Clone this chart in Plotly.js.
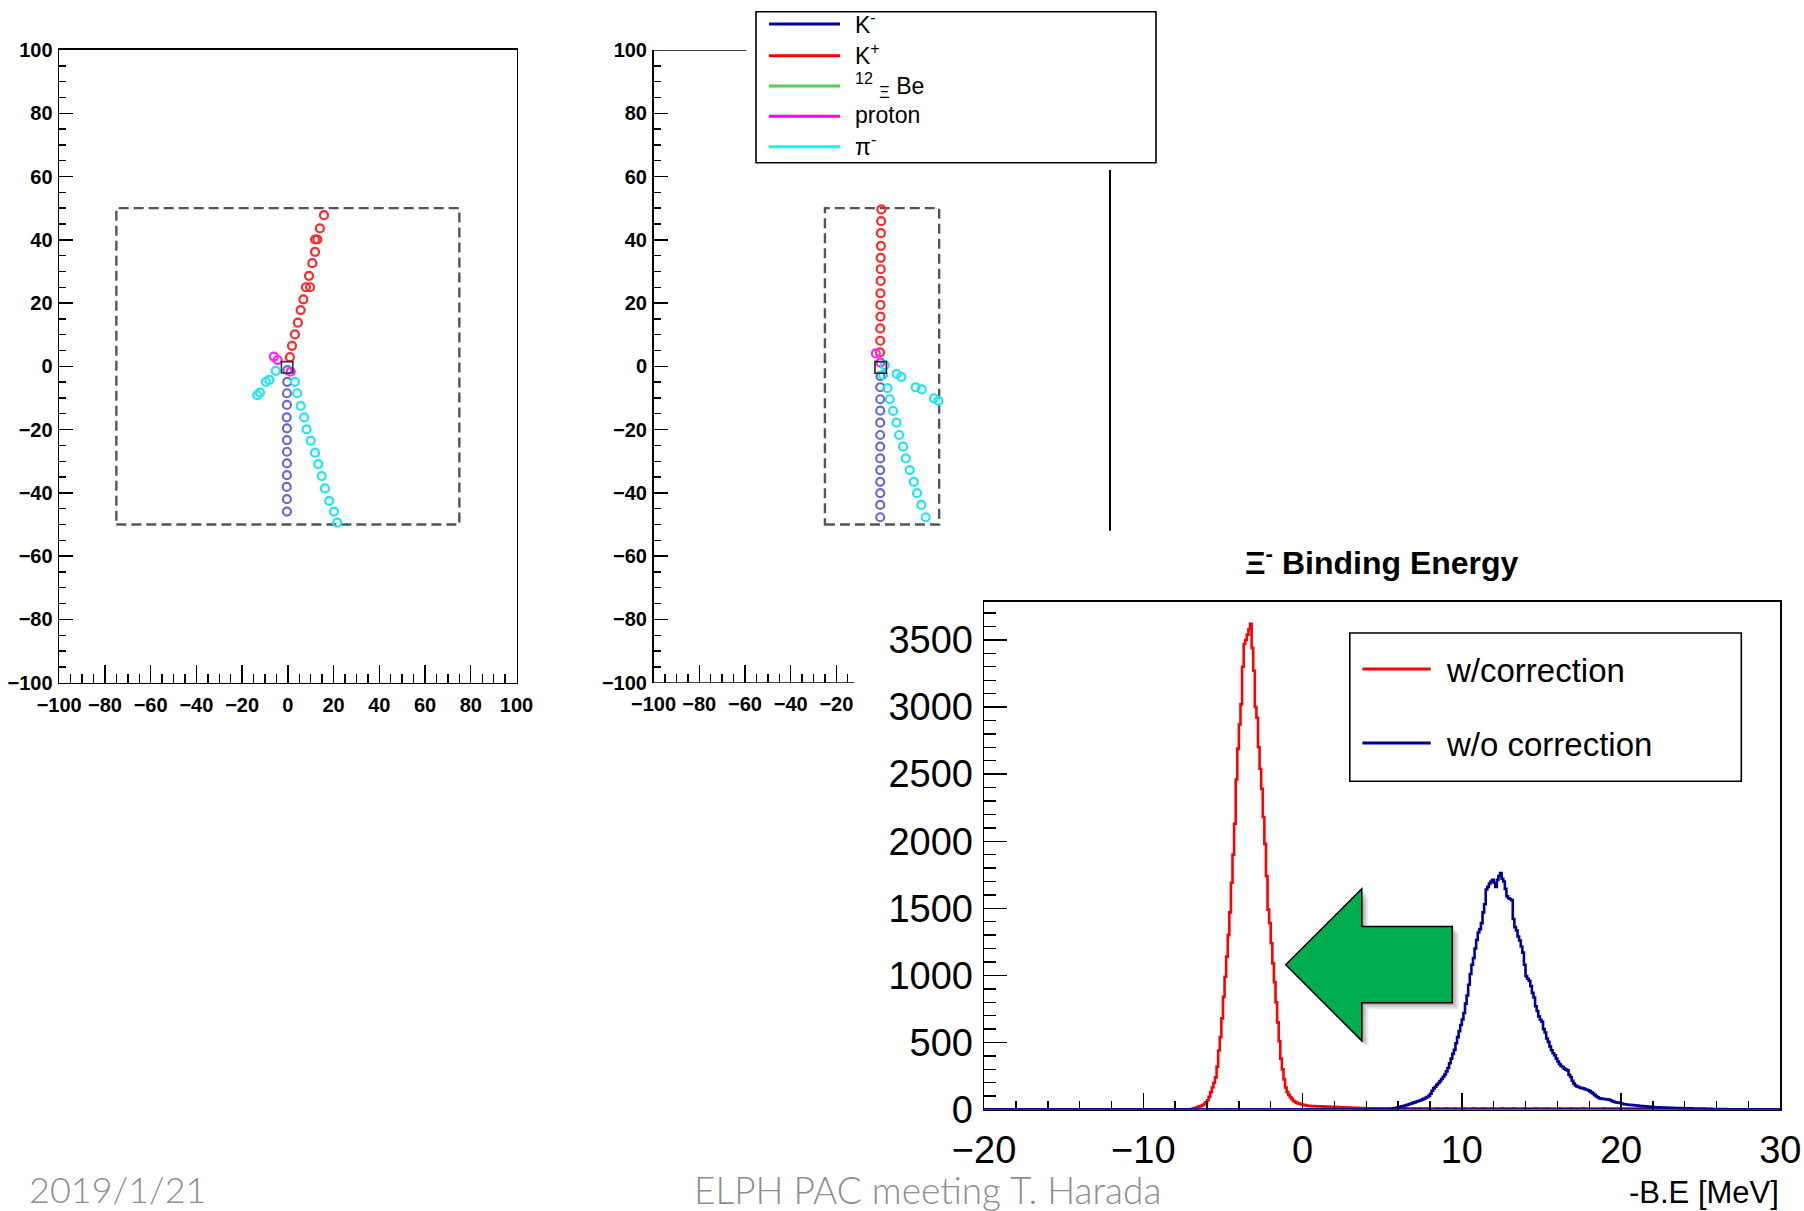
<!DOCTYPE html>
<html><head><meta charset="utf-8">
<script src="https://cdn.plot.ly/plotly-3.0.1.min.js"></script>
<style>html,body{margin:0;padding:0;background:#fff}#chart{width:1804px;height:1211px}</style>
</head><body><div id="chart"></div>
<script>
// ---------- Event display: left view (x-y) ----------
const leftKPlusX  = [15.8,14.0,11.9,12.9,11.9,10.7,9.25,7.9,9.7,6.8,5.6,4.4,3.1,1.8,0.9];
const leftKPlusY  = [47.8,43.6,40.1,40.1,36.2,32.6,28.6,25.0,25.0,21.2,17.8,13.8,10.1,6.5,2.9];
const leftProtonX = [-6.1,-4.5,1.25];
const leftProtonY = [3.1,2.0,-1.7];
const leftKMinusX = [-0.2,-0.3,-0.4,-0.4,-0.5,-0.4,-0.4,-0.4,-0.4,-0.4,-0.5,-0.4,-0.4];
const leftKMinusY = [-1.2,-4.9,-8.5,-12.2,-16.1,-19.6,-23.3,-27.0,-30.7,-34.4,-38.1,-42.0,-45.9];
const leftPiX = [-5.3,-8.1,-9.6,-12.2,-13.4,3.1,4.1,5.6,7.1,8.2,10.0,11.9,13.3,14.8,16.2,18.1,20.2,21.6];
const leftPiY = [-1.4,-4.3,-4.9,-8.3,-9.1,-4.9,-8.5,-12.5,-16.1,-19.9,-23.5,-27.3,-30.9,-34.7,-38.6,-42.5,-45.9,-49.4];

// ---------- Event display: middle view ----------
const midKPlusX  = [-0.3,-0.4,-0.5,-0.5,-0.6,-0.6,-0.6,-0.7,-0.7,-0.7,-0.8,-0.8,-0.9];
const midKPlusY  = [49.6,45.9,42.1,38.1,34.3,30.7,27.0,23.1,19.4,15.7,12.0,8.1,4.4];
const midProtonX = [-2.7,-0.7];
const midProtonY = [4.1,1.2];
const midKMinusX = [-0.7,-0.8,-0.8,-0.8,-0.8,-0.8,-0.8,-0.8,-0.8,-0.8,-0.8,-0.8,-0.8];
const midKMinusY = [-3.1,-6.6,-10.4,-14.0,-17.8,-21.7,-25.4,-29.1,-32.8,-36.5,-40.1,-43.8,-47.7];
const midPiX = [1.2,0.45,2.4,3.4,4.8,6.3,7.5,9.2,10.4,12.1,13.9,15.3,17.2,19.1,6.4,8.4,14.7,17.4,22.7,24.7];
const midPiY = [0.4,-2.7,-6.9,-10.4,-14.1,-17.8,-21.7,-25.4,-29.1,-32.8,-36.5,-40.1,-43.8,-47.7,-2.4,-3.3,-6.6,-7.3,-10.1,-10.9];

// ---------- Legend of the event display ----------
const trackLabels = ['K<sup>-</sup>','K<sup>+</sup>','<sup>12</sup> <sub>Ξ</sub> Be','proton','π<sup>-</sup>'];
const trackColors = ['#000099','#ff0000','#55cc55','#ff00ff','#00ffff'];

// ---------- Ξ- binding energy histograms (bin width 0.1 MeV) ----------
const binWidth = 0.1;
const corrStart = -7.0;
const corrCounts = [
 4,8,12,16,20,24,28,34,42,55,
 70,95,130,165,200,240,320,440,540,680,
 840,990,1140,1300,1470,1690,1900,2130,2460,2690,
 2870,3020,3300,3470,3500,3540,3580,3620,3440,3270,
 3000,2920,2700,2540,2390,2180,1980,1740,1490,1390,
 1240,1090,950,800,650,510,380,300,225,165,
 130,110,92,78,64,57,50,46,43,39,
 36,33,31,29,28,27,26,27,25,24,
 25,23,24,22,23,21,22,20,21,19,
 20,18,19,17,18,16,17,15,16,14,
 15,13,14,12,13,11,12,10,11,9,
 10,
 10,9,10,9,9,10,9,9,8,9,
 9,8,9,9,8,9,8,8,9,8,
 8,9,8,8,9,8,8,8,9,8,
 8,8,9,8,8,8,8,9,8,8,
 8,8,8,9,8,8,8,8,8,9,
 8,8,8,8,9,8,8,8,8,8,
 9,8,8,8,8,8,9,8,8,8,
 8,8,9,8,8,8,8,8,9,8,
 8,8,8,8,9,8,8,8,8,8,
 8,9,8,8,8,8,8,8,9,8,
 8,8,8,8,8,9,8,8,8,8,
 8,8,9,8,8,8,8,8,8,8,
 9,8,8,8,8,8,8,9,8,8,
 8,8,8,8,8,9,8,8,8,8,
 8,8,8,8,8,8,8,8,9,8,
 8,8,8,8,8,8,8,8,8,8,
 8,8,8,8,7,8,8,7,8,7,
 7,7,7,6,6,5,5,4,3
];
const rawStart = 5.5;
const rawCounts = [
 3,6,9,12,15,18,20,24,27,31,
 34,38,42,46,50,54,58,62,66,70,
 76,82,88,94,102,118,140,158,170,185,
 198,212,228,245,262,285,310,345,380,415,
 445,495,540,585,630,672,720,790,850,930,
 1010,1080,1130,1200,1265,1320,1345,1390,1470,1530,
 1640,1660,1685,1700,1712,1690,1660,1712,1740,1762,
 1720,1700,1645,1590,1575,1570,1560,1420,1360,1335,
 1290,1260,1215,1170,1080,995,975,960,920,870,
 835,770,735,695,670,655,600,575,530,505,
 470,442,420,405,380,358,340,325,318,305,
 298,292,260,243,215,195,180,172,168,163,
 160,158,152,148,144,138,128,120,110,100,
 92,85,82,80,79,77,76,74,70,64,
 58,55,53,52,50,46,42,40,38,36,
 35,34,33,32,31,30,28,27,26,25,
 24,23,22,
 20,19,19,18,18,17,17,16,16,15,
 15,14,14,13,13,12,12,12,11,11,
 11,10,10,10,9,9,9,8,8,8,
 8,7,7,7,7,6,6,6,6,5,
 5,5,5,4,4,4,4,4,3,3,
 3,3,3,3,2,2,2,2,2,2,
 1,1
];
const histLabels = ['w/correction','w/o correction'];
const histColors = ['#ff0000','#000099'];

// ---------- helpers ----------
const W = 1804, H = 1211;
const px = x => x / W;
const py = y => 1 - y / H;

function pts(x, y, color, xa, ya) {
  return {type:'scatter', mode:'markers', x:x, y:y, xaxis:xa, yaxis:ya,
    marker:{symbol:'circle-open', size:8, color:color, line:{width:2.2, color:color}},
    hoverinfo:'skip', showlegend:false};
}
function stepTrace(start, vals, color) {
  const x = [-20, start - binWidth/2], y = [0, 0];
  vals.forEach((v, i) => { x.push(start + binWidth*(i + 0.5)); y.push(v); });
  x.push(start + binWidth*(vals.length + 0.5)); y.push(0);
  x.push(30); y.push(0);
  return {type:'scatter', mode:'lines', x:x, y:y, xaxis:'x3', yaxis:'y3',
    line:{shape:'hvh', color:color, width:2.6}, hoverinfo:'skip', showlegend:false};
}

const cBlueP = '#6a6ad6', cRedP = '#ff2a2a', cMagP = '#ff22ff', cCyanP = '#1ee6f2';
const data = [
  pts(leftKMinusX, leftKMinusY, cBlueP, 'x', 'y'),
  pts(leftKPlusX, leftKPlusY, cRedP, 'x', 'y'),
  pts(leftProtonX, leftProtonY, cMagP, 'x', 'y'),
  pts(leftPiX, leftPiY, cCyanP, 'x', 'y'),
  pts(midKMinusX, midKMinusY, cBlueP, 'x2', 'y2'),
  pts(midKPlusX, midKPlusY, cRedP, 'x2', 'y2'),
  pts(midProtonX, midProtonY, cMagP, 'x2', 'y2'),
  pts(midPiX, midPiY, cCyanP, 'x2', 'y2'),
  stepTrace(corrStart, corrCounts, histColors[0]),
  stepTrace(rawStart, rawCounts, histColors[1])
];

const boldTick = {family:'Liberation Sans, Arial, sans-serif', size:20, color:'#000', weight:'bold'};
const evAxisX = {range:[-100,100], showline:true, mirror:true, linecolor:'#000', linewidth:1.6,
  ticks:'inside', ticklen:18, tickwidth:1.4, tickcolor:'#000', dtick:20, tick0:0,
  minor:{dtick:5, tick0:0, ticks:'inside', ticklen:9, tickwidth:1.4, tickcolor:'#000', showgrid:false},
  showgrid:false, zeroline:false, tickfont:boldTick, ticklabelstandoff:4};
const evAxisY = {range:[-100,100], showline:true, mirror:true, linecolor:'#000', linewidth:1.6,
  ticks:'inside', ticklen:14, tickwidth:1.4, tickcolor:'#000', dtick:20, tick0:0,
  minor:{dtick:5, tick0:0, ticks:'inside', ticklen:7, tickwidth:1.4, tickcolor:'#000', showgrid:false},
  showgrid:false, zeroline:false, tickfont:boldTick, ticklabelstandoff:1};

const evDomX1 = [px(59.2), px(516.5)];
const evDomX2 = [px(653.6), px(1110.5)];
const evDomY = [py(682.7), py(50)];

const shapes = [];
const annotations = [];

// dashed detector outlines and vertex boxes
shapes.push({type:'rect', xref:'x', yref:'y', x0:-75, x1:75, y0:-50, y1:50, layer:'below',
  line:{color:'#555', width:2.4, dash:'10px,5px'}});
shapes.push({type:'rect', xref:'x2', yref:'y2', x0:-25, x1:25, y0:-50, y1:50, layer:'below',
  line:{color:'#555', width:2.4, dash:'10px,5px'}});
shapes.push({type:'rect', xref:'x', yref:'y', x0:-2.8, x1:2.2, y0:-2.1, y1:1.5,
  line:{color:'#333', width:1.6}});
shapes.push({type:'rect', xref:'x2', yref:'y2', x0:-3.1, x1:1.9, y0:-2.2, y1:1.5,
  line:{color:'#222', width:1.6}});
// partially hidden frame of the middle view
shapes.push({type:'line', xref:'x2', yref:'y2', x0:-100, x1:-12.14, y0:-100, y1:-100, line:{color:'#000', width:1.6}});
shapes.push({type:'line', xref:'x2', yref:'y2', x0:-100, x1:-59.4, y0:100, y1:100, line:{color:'#000', width:1.6}});
shapes.push({type:'line', xref:'paper', yref:'y2', x0:px(1110), x1:px(1110), y0:62.1, y1:-52.0, line:{color:'#000', width:2}});

// event display legend
shapes.push({type:'rect', xref:'paper', yref:'paper', x0:px(756), x1:px(1156), y0:py(162.7), y1:py(11.7),
  fillcolor:'#fff', line:{color:'#000', width:1.6}});
const rowY = [24, 55.7, 86, 116.3, 146.7];
trackLabels.forEach((t, i) => {
  shapes.push({type:'line', xref:'paper', yref:'paper', x0:px(769), x1:px(840), y0:py(rowY[i]), y1:py(rowY[i]),
    line:{color:trackColors[i], width:3}});
  annotations.push({xref:'paper', yref:'paper', x:px(853), y:py(rowY[i] - 1.5), xanchor:'left', yanchor:'middle',
    text:t, showarrow:false, font:{family:'Liberation Sans, Arial, sans-serif', size:23, color:'#000'}});
});

// histogram legend
shapes.push({type:'rect', xref:'paper', yref:'paper', x0:px(1349.8), x1:px(1741.3), y0:py(781.3), y1:py(633),
  fillcolor:'#fff', line:{color:'#000', width:1.6}});
const histRowY = [669, 743];
histLabels.forEach((t, i) => {
  shapes.push({type:'line', xref:'paper', yref:'paper', x0:px(1362.4), x1:px(1430.7), y0:py(histRowY[i]), y1:py(histRowY[i]),
    line:{color:histColors[i], width:3}});
  annotations.push({xref:'paper', yref:'paper', x:px(1444), y:py(histRowY[i] + 1), xanchor:'left', yanchor:'middle',
    text:t, showarrow:false, font:{family:'Liberation Sans, Arial, sans-serif', size:33, color:'#000'}});
});

// baseline of the uncorrected histogram lying on the x axis
shapes.push({type:'line', xref:'x3', yref:'y3', x0:-20, x1:30, y0:0, y1:0, line:{color:histColors[1], width:2.6}});

// green arrow (in histogram coordinates) with soft shadow
function arrowPath(dx, dy) {
  const p = [[-1.06,1079],[3.72,1646],[3.72,1365],[9.40,1365],[9.40,797],[3.72,797],[3.72,512]];
  return 'M ' + p.map(q => (q[0]+dx).toFixed(3) + ',' + (q[1]+dy).toFixed(1)).join(' L ') + ' Z';
}
shapes.push({type:'path', xref:'x3', yref:'y3', path:arrowPath(0.42,-50), fillcolor:'rgba(0,0,0,0.08)', line:{width:0}});
shapes.push({type:'path', xref:'x3', yref:'y3', path:arrowPath(0.28,-34), fillcolor:'rgba(0,0,0,0.12)', line:{width:0}});
shapes.push({type:'path', xref:'x3', yref:'y3', path:arrowPath(0.15,-18), fillcolor:'rgba(0,0,0,0.15)', line:{width:0}});
shapes.push({type:'path', xref:'x3', yref:'y3', path:arrowPath(0,0), fillcolor:'#00ad4f', line:{color:'#000', width:1.5}});

// texts
annotations.push({xref:'paper', yref:'paper', x:px(1382), y:py(561), xanchor:'center', yanchor:'middle',
  text:'Ξ<sup>-</sup> Binding Energy', showarrow:false,
  font:{family:'Liberation Sans, Arial, sans-serif', size:32, color:'#000', weight:'bold'}});
annotations.push({xref:'paper', yref:'paper', x:px(1781), y:py(1192), xanchor:'right', yanchor:'middle',
  text:'-B.E [MeV]', showarrow:false, font:{family:'Liberation Sans, Arial, sans-serif', size:31, color:'#000'}});
annotations.push({xref:'paper', yref:'paper', x:px(27), y:py(1189), xanchor:'left', yanchor:'middle',
  text:'2019/1/21', showarrow:false, font:{family:'Lato, Liberation Sans, sans-serif', size:36, color:'#8e8e8e', weight:300}});
annotations.push({xref:'paper', yref:'paper', x:px(692), y:py(1189), xanchor:'left', yanchor:'middle',
  text:'ELPH PAC meeting T. Harada', showarrow:false, font:{family:'Lato, Liberation Sans, sans-serif', size:37, color:'#8e8e8e', weight:300}});

const layout = {
  width:W, height:H, autosize:false, margin:{l:0,r:0,t:0,b:0,pad:0},
  paper_bgcolor:'#fff', plot_bgcolor:'rgba(0,0,0,0)', showlegend:false,
  font:{family:'Liberation Sans, Arial, sans-serif', color:'#000'},
  xaxis:Object.assign({}, evAxisX, {domain:evDomX1, anchor:'y'}),
  yaxis:Object.assign({}, evAxisY, {domain:evDomY, anchor:'x'}),
  xaxis2:Object.assign({}, evAxisX, {domain:evDomX2, anchor:'y2', showline:false, mirror:false,
    ticklabelstandoff:7, tickmode:'array', tickvals:[-100,-80,-60,-40,-20],
    minor:{tickmode:'array', tickvals:[-95,-90,-85,-75,-70,-65,-55,-50,-45,-35,-30,-25,-15],
      ticks:'inside', ticklen:9, tickwidth:1.4, tickcolor:'#000', showgrid:false}}),
  yaxis2:Object.assign({}, evAxisY, {domain:evDomY, anchor:'x2', mirror:false}),
  xaxis3:{domain:[px(984.1), px(1780.3)], anchor:'y3', range:[-20,30], showline:true, mirror:true,
    linecolor:'#000', linewidth:1.5, ticks:'inside', ticklen:17, tickwidth:1.4, tickcolor:'#000',
    dtick:10, tick0:0, minor:{dtick:2, tick0:0, ticks:'inside', ticklen:9, tickwidth:1.4, tickcolor:'#000', showgrid:false},
    showgrid:false, zeroline:false, ticklabelstandoff:6,
    tickfont:{family:'Liberation Sans, Arial, sans-serif', size:38, color:'#000'}},
  yaxis3:{domain:[py(1109.6), py(601.7)], anchor:'x3', range:[0,3785], showline:true, mirror:true,
    linecolor:'#000', linewidth:1.5, ticks:'inside', ticklen:23, tickwidth:1.4, tickcolor:'#000',
    dtick:500, tick0:0, tickformat:'d',
    minor:{dtick:100, tick0:0, ticks:'inside', ticklen:12, tickwidth:1.4, tickcolor:'#000', showgrid:false},
    showgrid:false, zeroline:false, ticklabelstandoff:2,
    tickfont:{family:'Liberation Sans, Arial, sans-serif', size:38, color:'#000'}},
  shapes:shapes,
  annotations:annotations
};

Plotly.newPlot('chart', data, layout, {staticPlot:true, displayModeBar:false});
</script></body></html>
